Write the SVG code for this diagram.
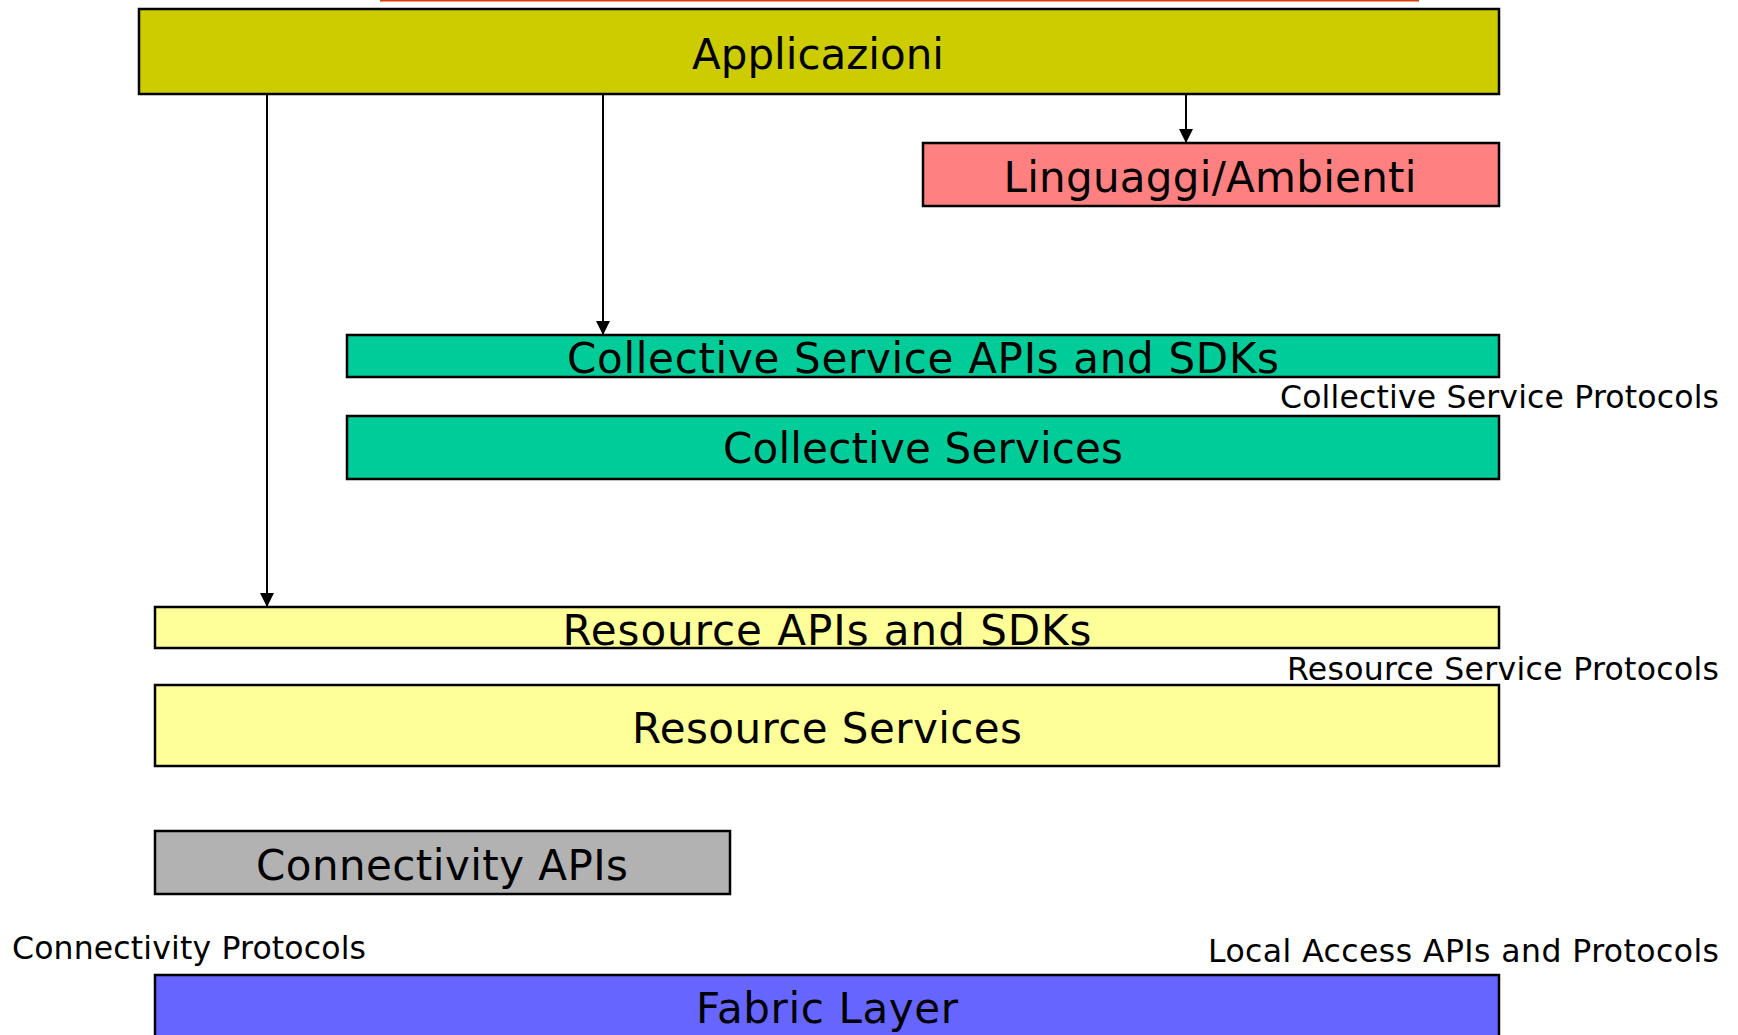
<svg xmlns="http://www.w3.org/2000/svg" width="1738" height="1035" viewBox="0 0 1738 1035">
<style>
.box{stroke:#000;stroke-width:2.5}
.big{font-family:"DejaVu Sans",Verdana,sans-serif;font-size:42px;fill:#000;text-anchor:middle}
.small{font-family:"DejaVu Sans",Verdana,sans-serif;font-size:31.5px;fill:#000}
.conn{stroke:#000;stroke-width:2;fill:none;marker-end:url(#ah)}
</style>
<defs>
<marker id="ah" markerWidth="14" markerHeight="14" refX="14" refY="7" orient="auto" markerUnits="userSpaceOnUse">
<path d="M0,0 L14,7 L0,14 Z" fill="#000"/>
</marker>
</defs>
<rect width="1738" height="1035" fill="#fff"/>
<line x1="380" y1="0.5" x2="1419" y2="0.5" stroke="#e03c00" stroke-width="2"/>
<g id="applicazioni">
<rect class="box" x="139" y="9" width="1360" height="85" fill="#cccc00"/>
<text class="big" x="818" y="69">Applicazioni</text>
</g>
<g id="linguaggi">
<rect class="box" x="923" y="143" width="576" height="63" fill="#ff8080"/>
<text class="big" x="1210" y="192" textLength="413" lengthAdjust="spacing">Linguaggi/Ambienti</text>
</g>
<g id="collective-apis">
<rect class="box" x="347" y="335" width="1152" height="42" fill="#00cc99"/>
<text class="big" x="923" y="373" textLength="712" lengthAdjust="spacing">Collective Service APIs and SDKs</text>
</g>
<g id="collective-protocols">
<text class="small" x="1719" y="408" text-anchor="end" textLength="439" lengthAdjust="spacing">Collective Service Protocols</text>
</g>
<g id="collective-services">
<rect class="box" x="347" y="416" width="1152" height="63" fill="#00cc99"/>
<text class="big" x="923" y="463" textLength="400" lengthAdjust="spacing">Collective Services</text>
</g>
<g id="resource-apis">
<rect class="box" x="155" y="607" width="1344" height="41" fill="#ffff99"/>
<text class="big" x="827" y="645" textLength="529" lengthAdjust="spacing">Resource APIs and SDKs</text>
</g>
<g id="resource-protocols">
<text class="small" x="1719" y="680" text-anchor="end" textLength="432" lengthAdjust="spacing">Resource Service Protocols</text>
</g>
<g id="resource-services">
<rect class="box" x="155" y="685" width="1344" height="81" fill="#ffff99"/>
<text class="big" x="827" y="743" textLength="390" lengthAdjust="spacing">Resource Services</text>
</g>
<g id="connectivity-apis">
<rect class="box" x="155" y="831" width="575" height="63" fill="#b2b2b2"/>
<text class="big" x="442" y="880" textLength="372" lengthAdjust="spacing">Connectivity APIs</text>
</g>
<g id="connectivity-protocols">
<text class="small" x="12" y="959" textLength="354" lengthAdjust="spacing">Connectivity Protocols</text>
</g>
<g id="local-access">
<text class="small" x="1719" y="962" text-anchor="end" textLength="511" lengthAdjust="spacing">Local Access APIs and Protocols</text>
</g>
<g id="fabric">
<rect class="box" x="155" y="975" width="1344" height="70" fill="#6666ff"/>
<text class="big" x="827" y="1023" textLength="262" lengthAdjust="spacing">Fabric Layer</text>
</g>
<g id="connectors">
<line class="conn" x1="1186" y1="95" x2="1186" y2="143"/>
<line class="conn" x1="603" y1="95" x2="603" y2="335"/>
<line class="conn" x1="267" y1="95" x2="267" y2="607"/>
</g>
</svg>
